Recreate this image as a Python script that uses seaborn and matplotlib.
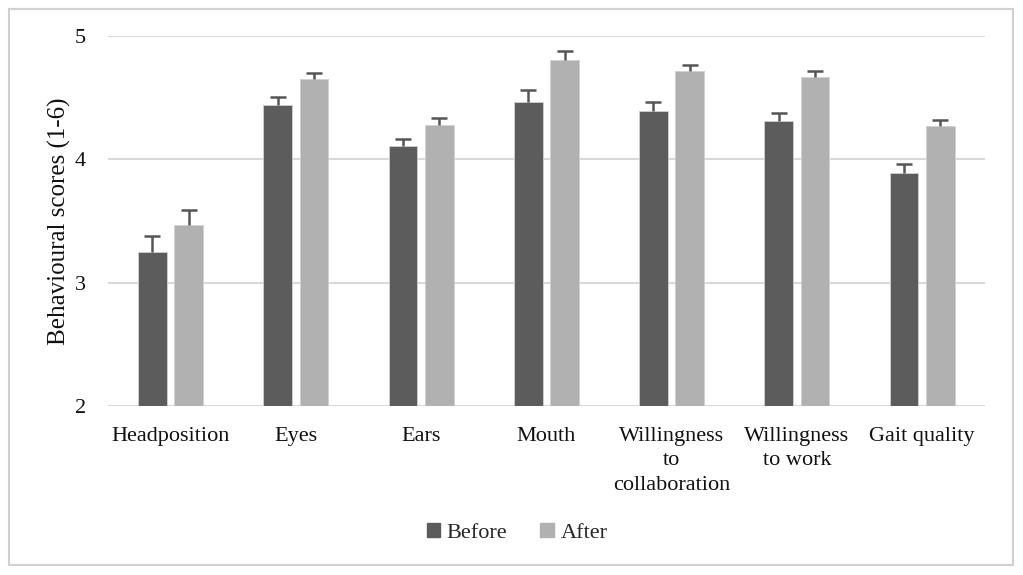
"""Behavioural scores before and after, grouped bar chart with one-sided error bars."""

import numpy as np
import pandas as pd
import seaborn as sns
import matplotlib
matplotlib.use("Agg")
import matplotlib.pyplot as plt
from matplotlib.patches import Rectangle

# --- Data -----------------------------------------------------------------
categories = [
    "Headposition",
    "Eyes",
    "Ears",
    "Mouth",
    "Willingness\nto\ncollaboration",
    "Willingness\nto work",
    "Gait quality",
]
before = [3.25, 4.44, 4.11, 4.47, 4.39, 4.31, 3.89]
after = [3.47, 4.65, 4.28, 4.81, 4.72, 4.67, 4.27]
before_err = [0.13, 0.07, 0.06, 0.09, 0.08, 0.07, 0.07]
after_err = [0.12, 0.05, 0.06, 0.07, 0.05, 0.05, 0.05]
groups = ["Before", "After"]
y_ticks = [2, 3, 4, 5]

colors = {"Before": "#5c5c5c", "After": "#b1b1b1"}


def build_frame() -> pd.DataFrame:
    df = pd.DataFrame({
        "category": categories * 2,
        "group": ["Before"] * len(categories) + ["After"] * len(categories),
        "score": before + after,
        "err": before_err + after_err,
    })
    return df


def plot(df: pd.DataFrame, output_path: str) -> None:
    sns.set_style("white")
    plt.rcParams["font.family"] = ["Liberation Serif", "DejaVu Serif"]

    fig = plt.figure(figsize=(10.23, 5.75), dpi=100)
    ax = fig.add_axes([0.1056, 0.294, 0.857, 0.643])

    sns.barplot(
        data=df, x="category", y="score", hue="group",
        hue_order=groups, order=categories, palette=colors,
        errorbar=None, width=0.58, gap=0.21, legend=False, ax=ax,
        edgecolor="#d0d0d0", linewidth=0.6,
    )

    errs = {"Before": before_err, "After": after_err}
    for container, name in zip(ax.containers, groups):
        xs = [p.get_x() + p.get_width() / 2 for p in container.patches]
        hs = [p.get_height() for p in container.patches]
        e = np.array(errs[name])
        _, caps, _ = ax.errorbar(xs, hs, yerr=[np.zeros_like(e), e], fmt="none",
                                 ecolor="#555555", elinewidth=1.8, capsize=6,
                                 capthick=1.8, zorder=3)
        caps[0].set_visible(False)

    ax.set_xlim(-0.5, len(categories) - 0.5)
    ax.set_ylim(2, 5)
    ax.set_yticks(y_ticks)
    ax.yaxis.grid(True, color="#d9d9d9", linewidth=1.5)
    ax.set_axisbelow(True)
    for s in ax.spines.values():
        s.set_visible(False)
    ax.tick_params(axis="both", length=0, labelsize=16, colors="#111111")
    ax.tick_params(axis="y", pad=16)
    ax.tick_params(axis="x", pad=15)
    for lab in ax.get_xticklabels():
        lab.set_linespacing(1.4)
    ax.set_xlabel("")
    ax.set_ylabel("Behavioural scores (1-6)", fontsize=18, color="#111111",
                  labelpad=3)

    handles = [Rectangle((0, 0), 1, 1, color=colors[g]) for g in groups]
    fig.legend(handles, groups, loc="center", bbox_to_anchor=(517 / 1023, 1 - 533 / 575),
               ncol=2, frameon=False, fontsize=16, handlelength=0.6,
               handleheight=0.6, handletextpad=0.3, columnspacing=1.5)

    fig.patches.append(Rectangle((9 / 1023, 10 / 575), 1004 / 1023, 556 / 575,
                                 transform=fig.transFigure, fill=False,
                                 edgecolor="#d0d0d0", linewidth=1.5))

    fig.savefig(output_path, dpi=100)


def main() -> None:
    plot(build_frame(), "out.png")


if __name__ == "__main__":
    main()
